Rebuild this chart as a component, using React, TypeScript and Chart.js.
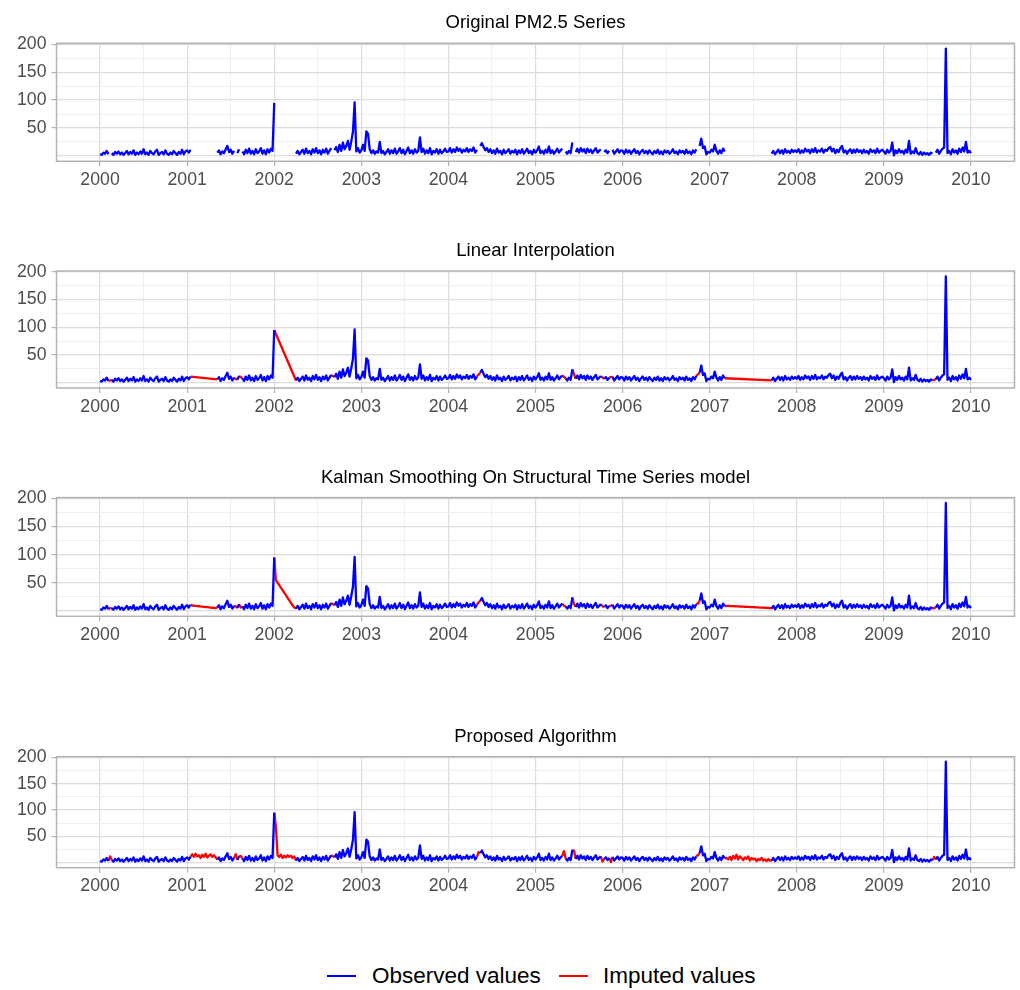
import React, { useEffect, useRef } from 'react';
import { Chart, registerables } from 'chart.js';

Chart.register(...registerables);

// ---------------- DATA ----------------
// PM2.5 readings sampled weekly (52 steps per year); null = missing value
const STEPS_PER_YEAR = 52;

const obs2000 = [
  3, 2, 6, 4, 9, 3, null, 5, 2, 7, 4, 8, 3,
  6, 2, 5, 9, 3, 7, 4, 10, 2, 6, 3, 8, 4,
  12, 3, 6, 2, 9, 5, 3, 8, 11, 2, 5, 7, 3,
  10, 4, 2, 6, 3, 9, 5, 2, 7, 4, 11, 3, 8,
];
const obs2001 = [
  10, 6, 11, null, null, null, null, null, null, null, null, null, null,
  null, null, null, null, null, 6, 10, 3, 8, 5, 12, 18, 7,
  11, 4, 9, null, 5, 12, null, 8, 3, 11, 5, 13, 4,
  9, 3, 12, 5, 8, 14, 4, 10, 3, 12, 6, 13, 9,
];
const obs2002 = [
  95, null, null, null, null, null, null, null, null, null, null, null, null,
  4, 9, 3, 7, 11, 4, 13, 5, 9, 3, 12, 6, 14,
  5, 10, 3, 11, 6, 13, 4, 9, 14, null, 10, 16, 7,
  20, 9, 24, 12, 18, 27, 11, 26, 43, 96, 8, 14, 6,
];
const obs2003 = [
  10, 20, 9, 44, 40, 12, 5, 10, 4, 8, 6, 25, 5,
  9, 3, 7, 12, 4, 10, 5, 13, 4, 8, 14, 5, 11,
  3, 9, 15, 5, 10, 4, 12, 6, 9, 33, 7, 13, 4,
  10, 5, 14, 3, 9, 6, 12, 4, 11, 5, 8, 13, 7,
];
const obs2004 = [
  8, 14, 6, 12, 7, 15, 9, 13, 6, 11, 8, 14, 7,
  12, 9, 15, 6, 11, null, 18, 23, 16, 10, 14, 7, 12,
  5, 10, 4, 13, 6, 9, 3, 11, 5, 8, 12, 4, 9,
  6, 11, 3, 10, 5, 12, 4, 8, 13, 5, 9, 3, 11,
];
const obs2005 = [
  6, 10, 17, 5, 9, 4, 11, 6, 17, 5, 10, 4, 8,
  13, 6, 10, 13, null, 8, 4, 9, 5, 24, null, 7, 13,
  6, 14, 8, 12, 5, 13, 7, 11, 5, 10, 14, 6, 9,
  12, null, 7, 10, 5, 9, null, 11, 4, 8, 12, 6, 10,
];
const obs2006 = [
  9, 4, 11, 6, 10, 4, 8, 12, 5, 9, 3, 8, 11,
  5, 9, 4, 10, 6, 3, 9, 5, 11, 4, 8, 3, 10,
  6, 9, 4, 7, 12, 5, 8, 3, 10, 6, 9, 4, 11,
  5, 8, 3, 10, 6, 12, null, 18, 31, 14, 17, 3, 7,
];
const obs2007 = [
  6, 11, 8, 20, 9, 4, 10, 5, 13, 8, null, null, null,
  null, null, null, null, null, null, null, null, null, null, null, null, null,
  null, null, null, null, null, null, null, null, null, null, null, 4, 9,
  3, 7, 11, 5, 10, 4, 12, 6, 9, 5, 11, 7, 10,
];
const obs2008 = [
  7, 12, 5, 10, 6, 13, 8, 11, 5, 12, 7, 14, 6,
  10, 8, 13, 6, 11, 9, 14, 16, 8, 13, 5, 11, 7,
  14, 18, 6, 10, 4, 9, 12, 5, 11, 6, 12, 7, 10,
  5, 11, 6, 9, 4, 12, 7, 10, 5, 13, 6, 9, 11,
];
const obs2009 = [
  8, 4, 11, 6, 9, 24, 1, 10, 5, 12, 6, 9, 4,
  11, 6, 27, 4, 8, 5, 14, 5, 3, 7, 2, 6, 3,
  5, 2, 6, 4, null, 6, 11, 4, 9, 13, 15, 192, 5,
  9, 3, 12, 6, 10, 4, 13, 7, 15, 8, 25, 6, 9,
];
const obs2010 = [5];

// Values filled into the missing slots, in order of appearance
const kalmanFill = [
  5,
  9.6, 9.2, 9.0, 8.6, 8.3, 7.9, 7.6, 7.3, 6.9, 6.6, 6.3, 5.9, 5.6, 5.3, 5.0,
  8, 6,
  55, 50, 46, 41, 37, 32, 28, 23, 19, 14, 10, 6,
  12,
  15,
  9, 12, 8, 9,
  13,
  9.0, 8.9, 8.7, 8.6, 8.4, 8.3, 8.1, 8.0, 7.8, 7.7, 7.5, 7.4, 7.2, 7.1, 6.9, 6.8, 6.6, 6.5, 6.3, 6.2, 6.0, 5.9, 5.7, 5.6, 5.4, 5.3, 5.1,
  5,
];
const proposedFill = [
  12,
  16, 11, 17, 12, 14, 9, 15, 11, 17, 10, 13, 16, 11, 14, 10,
  16, 13,
  68, 14, 11, 15, 9, 13, 10, 14, 11, 13, 9, 12,
  12,
  20,
  22, 23, 2, 1,
  14,
  9, 6, 11, 5, 13, 8, 15, 6, 12, 9, 5, 10, 7, 12, 4, 9, 6, 8, 3, 7, 5, 9, 4, 6, 3, 7, 4,
  11,
];

const xTickYears = [2000, 2001, 2002, 2003, 2004, 2005, 2006, 2007, 2008, 2009, 2010];
const yTickValues = [50, 100, 150, 200];
const yGridValues = [0, 25, 50, 75, 100, 125, 150, 175, 200];
const panelTitles = [
  'Original PM2.5 Series',
  'Linear Interpolation',
  'Kalman Smoothing On Structural Time Series model',
  'Proposed Algorithm',
];
const legendLabels = ['Observed values', 'Imputed values'];

// ---------------- BUILD ----------------
const obsByYear = [obs2000, obs2001, obs2002, obs2003, obs2004, obs2005, obs2006, obs2007, obs2008, obs2009, obs2010];

type Pt = { x: number; y: number | null };

function buildObserved(): Pt[] {
  const pts: Pt[] = [];
  obsByYear.forEach((arr, k) => {
    arr.forEach((v, i) => pts.push({ x: 2000 + k + i / STEPS_PER_YEAR, y: v }));
  });
  return pts;
}

// Imputed segments only: for every run of missing values, the observed point
// before it, the filled values (if any; otherwise the library draws a straight
// line between the two observed neighbours), the observed point after it, then a break.
function buildImputed(points: Pt[], fill: number[] | null): Pt[] {
  const out: Pt[] = [];
  let j = 0;
  let i = 0;
  while (i < points.length) {
    if (points[i].y !== null) {
      i++;
      continue;
    }
    const s = i;
    while (i < points.length && points[i].y === null) i++;
    const e = i - 1;
    if (s > 0) out.push(points[s - 1]);
    for (let k = s; k <= e; k++) {
      if (fill) out.push({ x: points[k].x, y: fill[j++] });
    }
    if (e + 1 < points.length) {
      out.push(points[e + 1]);
      out.push({ x: points[e + 1].x + 0.0001, y: null });
    }
  }
  return out;
}

const observed = buildObserved();

const BLUE = '#0000ff';
const RED = '#ff0000';
const FONT = "'Liberation Sans', Arial, Helvetica, sans-serif";
const LINE_W = 2.3;

const xGridValues: number[] = [];
xTickYears.forEach((y, i) => {
  xGridValues.push(y);
  if (i < xTickYears.length - 1) xGridValues.push(y + 0.5);
});

type PanelCfg = {
  title: string;
  method: 'none' | 'linear' | 'kalman' | 'proposed';
  top: number;
  height: number;
  chartTop: number;
  chartBottom: number;
};

const panels: PanelCfg[] = [
  { title: panelTitles[0], method: 'none', top: 0, height: 200, chartTop: 43.3, chartBottom: 161.3 },
  { title: panelTitles[1], method: 'linear', top: 200, height: 225, chartTop: 71, chartBottom: 188 },
  { title: panelTitles[2], method: 'kalman', top: 425, height: 225, chartTop: 72.6, chartBottom: 191.3 },
  { title: panelTitles[3], method: 'proposed', top: 650, height: 250, chartTop: 106.7, chartBottom: 217.7 },
];

const panelDecor = {
  id: 'panelDecor',
  beforeDatasetsDraw(chart: any) {
    const { left, top, width, height } = chart.chartArea;
    const ctx = chart.ctx;
    ctx.save();
    ctx.strokeStyle = '#b3b3b3';
    ctx.lineWidth = 1.5;
    ctx.strokeRect(left, top, width, height);
    ctx.restore();
  },
  afterDraw(chart: any, _args: any, opts: any) {
    const { left, right, top } = chart.chartArea;
    const ctx = chart.ctx;
    ctx.save();
    ctx.fillStyle = '#000000';
    ctx.font = `18.5px ${FONT}`;
    ctx.textAlign = 'center';
    ctx.textBaseline = 'alphabetic';
    ctx.fillText(opts.title, (left + right) / 2, top - 15);
    ctx.restore();
  },
};

function buildConfig(p: PanelCfg): any {
  const datasets: any[] = [
    {
      label: legendLabels[0],
      data: observed,
      borderColor: BLUE,
      backgroundColor: BLUE,
      borderWidth: LINE_W,
      borderJoinStyle: 'round',
      pointRadius: 0,
      spanGaps: false,
      order: 0,
    },
  ];
  if (p.method !== 'none') {
    let data: Pt[] = buildImputed(observed, null);
    if (p.method === 'kalman') data = buildImputed(observed, kalmanFill);
    if (p.method === 'proposed') data = buildImputed(observed, proposedFill);
    datasets.push({
      label: legendLabels[1],
      data,
      borderColor: RED,
      backgroundColor: RED,
      borderWidth: LINE_W,
      borderJoinStyle: 'round',
      pointRadius: 0,
      spanGaps: false,
      order: 1,
    });
  }
  const xAxisHeight = p.height - p.chartBottom;
  return {
    type: 'line',
    data: { datasets },
    plugins: [panelDecor],
    options: {
      responsive: false,
      animation: false,
      devicePixelRatio: 1,
      events: [],
      layout: { padding: { top: p.chartTop, left: 0, right: 5.5, bottom: 0 } },
      plugins: {
        legend: { display: false },
        tooltip: { enabled: false },
        title: { display: false },
        panelDecor: { title: p.title },
      },
      scales: {
        x: {
          type: 'linear',
          min: 1999.5,
          max: 2010.5,
          afterBuildTicks: (s: any) => {
            s.ticks = xGridValues.map((v) => ({ value: v }));
          },
          afterFit: (s: any) => {
            s.height = xAxisHeight;
          },
          border: { display: false },
          grid: {
            color: (c: any) => (c.tick && Number.isInteger(c.tick.value) ? '#dcdcdc' : '#ededed'),
            lineWidth: (c: any) => (c.tick && Number.isInteger(c.tick.value) ? 1.2 : 0.9),
            tickColor: (c: any) => (c.tick && Number.isInteger(c.tick.value) ? '#b3b3b3' : 'rgba(0,0,0,0)'),
            tickLength: 5,
            tickWidth: 1.2,
          },
          ticks: {
            autoSkip: false,
            maxRotation: 0,
            minRotation: 0,
            padding: 3,
            color: '#4d4d4d',
            font: { family: FONT, size: 17.7 },
            callback: (v: number) => (Number.isInteger(v) ? String(v) : ''),
          },
        },
        y: {
          type: 'linear',
          min: -9.6,
          max: 201.6,
          afterBuildTicks: (s: any) => {
            s.ticks = yGridValues.map((v) => ({ value: v }));
          },
          afterFit: (s: any) => {
            s.width = 56.5;
          },
          border: { display: false },
          grid: {
            color: (c: any) => (c.tick && c.tick.value % 50 === 0 ? '#dcdcdc' : '#ededed'),
            lineWidth: (c: any) => (c.tick && c.tick.value % 50 === 0 ? 1.2 : 0.9),
            tickColor: (c: any) =>
              c.tick && yTickValues.indexOf(c.tick.value) >= 0 ? '#b3b3b3' : 'rgba(0,0,0,0)',
            tickLength: 5,
            tickWidth: 1.2,
          },
          ticks: {
            autoSkip: false,
            padding: 5,
            color: '#4d4d4d',
            font: { family: FONT, size: 17.7 },
            callback: (v: number) => (yTickValues.indexOf(v) >= 0 ? String(v) : ''),
          },
        },
      },
    },
  };
}

function Panel({ cfg }: { cfg: PanelCfg }) {
  const ref = useRef<HTMLCanvasElement | null>(null);
  useEffect(() => {
    if (!ref.current) return;
    const chart = new Chart(ref.current, buildConfig(cfg));
    return () => chart.destroy();
  }, [cfg]);
  return (
    <canvas
      ref={ref}
      width={1020}
      height={cfg.height}
      style={{ position: 'absolute', left: 0, top: cfg.top, width: 1020, height: cfg.height, display: 'block' }}
    />
  );
}

function LegendItem({ color, label, lineLeft, textLeft }: { color: string; label: string; lineLeft: number; textLeft: number }) {
  return (
    <>
      <div style={{ position: 'absolute', left: lineLeft, top: 975, width: 29, height: 2, background: color }} />
      <div
        style={{
          position: 'absolute',
          left: textLeft,
          top: 963.3,
          lineHeight: '26px',
          fontSize: 22.5,
          fontFamily: FONT,
          color: '#000000',
          whiteSpace: 'nowrap',
        }}
      >
        {label}
      </div>
    </>
  );
}

export default function App() {
  return (
    <div
      style={{
        position: 'absolute',
        left: 0,
        top: 0,
        width: 1020,
        height: 990,
        background: '#ffffff',
        overflow: 'hidden',
      }}
    >
      {panels.map((p) => (
        <Panel key={p.title} cfg={p} />
      ))}
      <LegendItem color={BLUE} label={legendLabels[0]} lineLeft={327} textLeft={372} />
      <LegendItem color={RED} label={legendLabels[1]} lineLeft={559} textLeft={603} />
    </div>
  );
}
